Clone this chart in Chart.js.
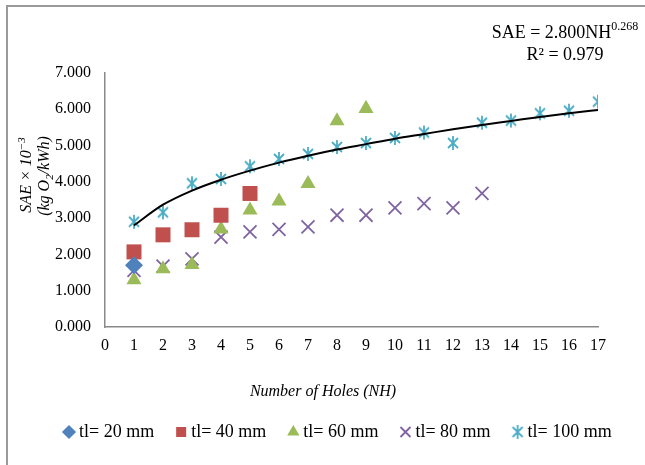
<!DOCTYPE html>
<html>
<head>
<meta charset="utf-8">
<script src="https://cdn.jsdelivr.net/npm/chart.js@4.4.0/dist/chart.umd.min.js"></script>
<style>
    html, body { margin: 0; padding: 0; background: #fff; overflow: hidden; }
    #wrap { position: relative; width: 645px; height: 465px; }
    #frame { position: absolute; left: 6px; top: 5px; width: 700px; height: 520px;
             border-left: 2px solid #9a9a9a; border-top: 2px solid #9a9a9a; }
    canvas { position: absolute; left: 0; top: 0; }
</style>
</head>
<body>
<div id="wrap">
    <div id="frame"></div>
    <canvas id="saeChart" width="645" height="465"></canvas>
</div>
<script>
// Number of holes (x values)
const holes = [1, 2, 3, 4, 5, 6, 7, 8, 9, 10, 11, 12, 13, 14, 15, 16, 17];

// SAE x 10^-3 for each tube length
const tl20 = [1.70];
const tl40 = [2.07, 2.54, 2.68, 3.08, 3.68];
const tl60 = [1.30, 1.60, 1.72, 2.70, 3.22, 3.47, 3.95, 5.68, 6.02];
const tl80 = [1.56, 1.68, 1.88, 2.48, 2.62, 2.69, 2.76, 3.08, 3.08, 3.28, 3.40, 3.28, 3.68];
const tl100 = [2.90, 3.16, 3.96, 4.08, 4.43, 4.63, 4.77, 4.96, 5.07, 5.21, 5.36, 5.07, 5.63, 5.69, 5.89, 5.96, 6.21];

// power trend line as drawn, read at each hole count
const trendLine = [2.80, 3.37, 3.76, 4.06, 4.31, 4.53, 4.72, 4.89, 5.04, 5.19, 5.32, 5.45, 5.57, 5.68, 5.79, 5.89, 5.98];

const seriesLabels = ['tl= 20 mm', 'tl= 40 mm', 'tl= 60 mm', 'tl= 80 mm', 'tl= 100 mm'];
const xTicks = { min: 0, max: 17, step: 1 };
const yTicks = { min: 0, max: 7, step: 1 };

const xTitle = 'Number of Holes (NH)';
const equationText = 'SAE = 2.800NH';
const equationPower = '0.268';
const rSquaredText = 'R\u00B2 = 0.979';

const serif = '"Liberation Serif", "Times New Roman", serif';
Chart.defaults.font.family = serif;
Chart.defaults.color = '#000';

function toPoints(values) {
    return values.map((v, i) => ({ x: holes[i], y: v }));
}

// asterisk marker (x with a vertical bar)
function makeAsterisk(color) {
    const c = document.createElement('canvas');
    c.width = 16;
    c.height = 16;
    const g = c.getContext('2d');
    g.strokeStyle = color;
    g.lineWidth = 1.8;
    g.beginPath();
    g.moveTo(3, 3); g.lineTo(13, 13);
    g.moveTo(13, 3); g.lineTo(3, 13);
    g.moveTo(8, 1); g.lineTo(8, 15);
    g.stroke();
    return c;
}

const legendHeight = 68;

const textPlugin = {
    id: 'textPlugin',
    beforeInit(chart) {
        const fitLegend = chart.legend.fit;
        chart.legend.fit = function () {
            fitLegend.call(this);
            this.height = legendHeight;
        };
    },
    afterDraw(chart) {
        const ctx = chart.ctx;
        ctx.save();
        ctx.fillStyle = '#000';
        ctx.textBaseline = 'alphabetic';

        // x axis title
        ctx.font = 'italic 16px ' + serif;
        ctx.textAlign = 'center';
        ctx.fillText(xTitle, 323, 396);

        // y axis title, two rotated lines
        ctx.textAlign = 'left';
        ctx.save();
        ctx.translate(31, 175);
        ctx.rotate(-Math.PI / 2);
        ctx.font = 'italic 16px ' + serif;
        const l1 = 'SAE \u00D7 10';
        const w1 = ctx.measureText(l1).width;
        ctx.font = 'italic 11px ' + serif;
        const s1 = '\u22123';
        const ws1 = ctx.measureText(s1).width;
        let x0 = -(w1 + ws1) / 2;
        ctx.font = 'italic 16px ' + serif;
        ctx.fillText(l1, x0, 0);
        ctx.font = 'italic 11px ' + serif;
        ctx.fillText(s1, x0 + w1, -6);
        ctx.restore();

        ctx.save();
        ctx.translate(49, 176);
        ctx.rotate(-Math.PI / 2);
        const a = '(kg O', b = '2', c = '/kWh)';
        ctx.font = 'italic 16px ' + serif;
        const wa = ctx.measureText(a).width;
        const wc = ctx.measureText(c).width;
        ctx.font = 'italic 11px ' + serif;
        const wb = ctx.measureText(b).width;
        x0 = -(wa + wb + wc) / 2;
        ctx.font = 'italic 16px ' + serif;
        ctx.fillText(a, x0, 0);
        ctx.fillText(c, x0 + wa + wb, 0);
        ctx.font = 'italic 11px ' + serif;
        ctx.fillText(b, x0 + wa, 4);
        ctx.restore();

        // trend line equation
        ctx.font = '18px ' + serif;
        const we = ctx.measureText(equationText).width;
        ctx.font = '12px ' + serif;
        const wp = ctx.measureText(equationPower).width;
        x0 = 565 - (we + wp) / 2;
        ctx.font = '18px ' + serif;
        ctx.fillText(equationText, x0, 38);
        ctx.font = '12px ' + serif;
        ctx.fillText(equationPower, x0 + we, 30);
        ctx.font = '18px ' + serif;
        ctx.textAlign = 'center';
        ctx.fillText(rSquaredText, 565, 60);
        ctx.restore();
    }
};

const ctx = document.getElementById('saeChart').getContext('2d');
const saeChart = new Chart(ctx, {
    type: 'scatter',
    data: {
        datasets: [
            {
                label: 'trend',
                data: toPoints(trendLine),
                showLine: true,
                borderColor: '#000',
                borderWidth: 2,
                pointRadius: 0,
                cubicInterpolationMode: 'monotone',
                order: 0
            },
            {
                label: seriesLabels[0],
                data: toPoints(tl20),
                pointStyle: 'rectRot',
                pointRadius: 9,
                backgroundColor: '#4F81BD',
                borderColor: '#4F81BD',
                borderWidth: 0,
                order: 1
            },
            {
                label: seriesLabels[1],
                data: toPoints(tl40),
                pointStyle: 'rect',
                pointRadius: 10.6,
                backgroundColor: '#C0504D',
                borderColor: '#C0504D',
                borderWidth: 0,
                order: 1
            },
            {
                label: seriesLabels[2],
                data: toPoints(tl60),
                pointStyle: 'triangle',
                pointRadius: 8.7,
                backgroundColor: '#9BBB59',
                borderColor: '#9BBB59',
                borderWidth: 0,
                order: 1
            },
            {
                label: seriesLabels[3],
                data: toPoints(tl80),
                pointStyle: 'crossRot',
                pointRadius: 9.2,
                backgroundColor: '#8064A2',
                borderColor: '#8064A2',
                borderWidth: 1.8,
                order: 1
            },
            {
                label: seriesLabels[4],
                data: toPoints(tl100),
                pointStyle: makeAsterisk('#4BACC6'),
                backgroundColor: '#4BACC6',
                borderColor: '#4BACC6',
                borderWidth: 1.8,
                order: 1
            }
        ]
    },
    options: {
        responsive: false,
        animation: false,
        layout: {
            padding: { left: 42, right: 0, top: 73, bottom: 0 }
        },
        scales: {
            x: {
                type: 'linear',
                min: xTicks.min,
                max: xTicks.max,
                grid: { display: false, drawTicks: false },
                border: { display: true, color: '#898989', width: 1.5 },
                ticks: {
                    stepSize: xTicks.step,
                    padding: 9,
                    font: { size: 16 },
                    color: '#000'
                },
                afterFit(scale) { scale.height = 70; }
            },
            y: {
                type: 'linear',
                min: yTicks.min,
                max: yTicks.max,
                grid: { display: false, drawTicks: false },
                border: { display: true, color: '#898989', width: 1.5 },
                ticks: {
                    stepSize: yTicks.step,
                    padding: 14,
                    font: { size: 16 },
                    color: '#000',
                    callback: v => v.toFixed(3)
                },
                afterFit(scale) { scale.width = 63; }
            },
            yRight: {
                type: 'linear',
                position: 'right',
                grid: { display: false, drawTicks: false },
                border: { display: false },
                ticks: { display: false },
                afterFit(scale) { scale.width = 47; }
            }
        },
        plugins: {
            tooltip: { enabled: false },
            legend: {
                position: 'bottom',
                align: 'start',
                labels: {
                    usePointStyle: true,
                    boxWidth: 2,
                    boxHeight: 10,
                    padding: 26,
                    color: '#000',
                    font: { size: 18 },
                    filter: item => item.text !== 'trend'
                }
            }
        }
    },
    plugins: [textPlugin]
});
</script>
</body>
</html>
